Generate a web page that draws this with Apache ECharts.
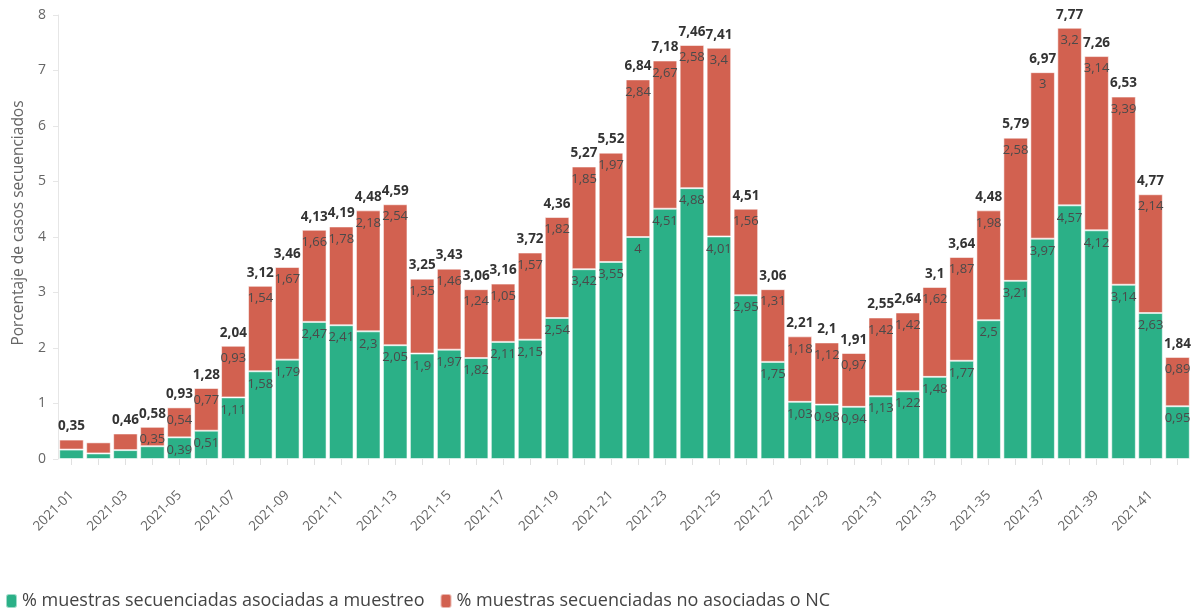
<!DOCTYPE html>
<html>
<head>
<meta charset="utf-8">
<script src="https://cdn.jsdelivr.net/npm/echarts@6/dist/echarts.min.js"></script>
<style>
  html, body { margin: 0; padding: 0; background: #fff; }
  #chart { width: 1191px; height: 611px; }
</style>
</head>
<body>
<div id="chart"></div>
<script>
// semanas 2021-01 .. 2021-42
const weeks = [];
for (let i = 1; i <= 42; i++) weeks.push('2021-' + (i < 10 ? '0' + i : '' + i));

const asociadas = [0.17, 0.10, 0.16, 0.23, 0.39, 0.51, 1.11, 1.58, 1.79, 2.47, 2.41, 2.3, 2.05, 1.9, 1.97, 1.82, 2.11, 2.15, 2.54, 3.42, 3.55,
  4, 4.51, 4.88, 4.01, 2.95, 1.75, 1.03, 0.98, 0.94, 1.13, 1.22, 1.48, 1.77, 2.5, 3.21, 3.97, 4.57, 4.12, 3.14, 2.63, 0.95];
const noAsociadas = [0.18, 0.20, 0.30, 0.35, 0.54, 0.77, 0.93, 1.54, 1.67, 1.66, 1.78, 2.18, 2.54, 1.35, 1.46, 1.24, 1.05, 1.57, 1.82, 1.85, 1.97,
  2.84, 2.67, 2.58, 3.4, 1.56, 1.31, 1.18, 1.12, 0.97, 1.42, 1.42, 1.62, 1.87, 1.98, 2.58, 3, 3.2, 3.14, 3.39, 2.14, 0.89];
// totals as labelled (week 2 has no label in the original)
const totales = [0.35, null, 0.46, 0.58, 0.93, 1.28, 2.04, 3.12, 3.46, 4.13, 4.19, 4.48, 4.59, 3.25, 3.43, 3.06, 3.16, 3.72, 4.36, 5.27, 5.52,
  6.84, 7.18, 7.46, 7.41, 4.51, 3.06, 2.21, 2.1, 1.91, 2.55, 2.64, 3.1, 3.64, 4.48, 5.79, 6.97, 7.77, 7.26, 6.53, 4.77, 1.84];

const FONT = 'Open Sans';
const fmt = v => String(v).replace('.', ',');
const segLabel = {
  show: true,
  position: 'insideTop',
  distance: 6,
  color: '#4a4a4a',
  fontFamily: FONT,
  fontSize: 13,
  formatter: p => (p.value >= 0.33 ? fmt(p.value) : '')
};

const myChart = echarts.init(document.getElementById('chart'));
const option = {
  animation: false,
  textStyle: { fontFamily: FONT },
  color: ['#2bb087', '#d26150'],
  legend: {
    data: ['% muestras secuenciadas asociadas a muestreo', '% muestras secuenciadas no asociadas o NC'],
    left: 0,
    bottom: -4,
    icon: 'roundRect',
    itemWidth: 11,
    itemHeight: 14,
    itemGap: 15,
    textStyle: { fontSize: 18, color: '#444', fontFamily: FONT }
  },
  grid: {
    left: 58,
    right: 0,
    top: 15,
    bottom: 152,
    outerBoundsMode: 'none'
  },
  xAxis: {
    type: 'category',
    data: weeks,
    axisLine: { show: false },
    axisTick: { show: true, alignWithLabel: true, interval: 0, length: 6, lineStyle: { color: '#e0e0e0' } },
    axisLabel: { interval: 1, rotate: 45, color: '#666', fontSize: 13.5, margin: 34 }
  },
  yAxis: {
    type: 'value',
    min: 0,
    max: 8,
    interval: 1,
    name: 'Porcentaje de casos secuenciados',
    nameLocation: 'middle',
    nameGap: 31,
    nameTextStyle: { color: '#666', fontSize: 15.5, padding: [0, 0, 0, 28] },
    axisLine: { show: true, lineStyle: { color: '#e6e6e6' } },
    axisTick: { show: true, length: 5, lineStyle: { color: '#e6e6e6' } },
    axisLabel: { color: '#666', fontSize: 14, margin: 12 },
    splitLine: { show: false }
  },
  series: [
    {
      name: '% muestras secuenciadas asociadas a muestreo',
      type: 'bar',
      stack: 'total',
      barCategoryGap: '9%',
      itemStyle: { borderColor: 'rgba(255,255,255,0.55)', borderWidth: 1 },
      label: segLabel,
      data: asociadas
    },
    {
      name: '% muestras secuenciadas no asociadas o NC',
      type: 'bar',
      stack: 'total',
      itemStyle: { borderColor: 'rgba(255,255,255,0.55)', borderWidth: 1 },
      label: segLabel,
      data: noAsociadas
    },
    {
      name: 'total',
      type: 'bar',
      stack: 'total',
      itemStyle: { color: 'transparent' },
      label: {
        show: true,
        position: 'top',
        distance: 6,
        color: '#333',
        fontWeight: 'bold',
        fontFamily: FONT,
        fontSize: 13.5,
        formatter: p => (totales[p.dataIndex] == null ? '' : fmt(totales[p.dataIndex]))
      },
      data: totales.map(() => 0)
    }
  ]
};
myChart.setOption(option);
</script>
</body>
</html>
